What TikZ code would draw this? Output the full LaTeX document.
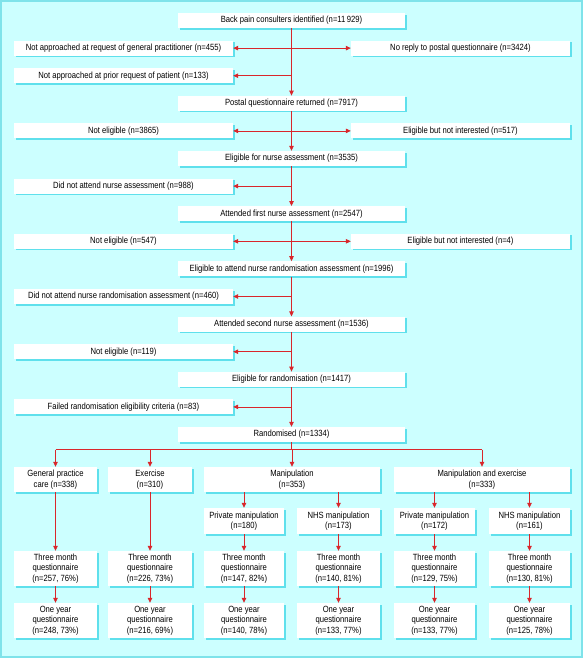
\documentclass[tikz,border=0pt]{standalone}
\usepackage{fontspec}
\setmainfont[FakeStretch=0.85]{Liberation Sans}
\usetikzlibrary{arrows.meta,shadows}
\definecolor{paneback}{HTML}{CCFFFF}
\definecolor{paneedge}{HTML}{7FE3EA}
\definecolor{boxshade}{HTML}{5FE0EC}
\definecolor{flowred}{HTML}{D9262B}
\begin{document}
\begin{tikzpicture}[x=1pt, y=-1pt,
      box/.style = {shape=rectangle, fill=white, inner sep=1pt, align=center,
        font=\fontsize{9}{10.5}\selectfont,
        drop shadow={shadow xshift=1.5pt, shadow yshift=-1.5pt, fill=boxshade, opacity=1}},
      mainbox/.style = {box, minimum width=227pt, minimum height=15pt},
      sidebox/.style = {box, minimum width=219pt, minimum height=15pt},
      armbox/.style = {box, minimum height=25pt},
      subbox/.style = {box, minimum height=26pt},
      qbox/.style = {box, minimum height=35pt},
      link/.style = {draw=flowred, line width=0.8pt},
      arr/.style = {link, -{Triangle[length=5pt,width=4.5pt]}}]
      \useasboundingbox (0,0) rectangle (584,659);
      \draw[fill=paneback, draw=paneedge, line width=1.5pt] (1,1) rectangle (582,657);
      % main column
      \node[mainbox] (m0) at (291.5,20.5) {Back pain consulters identified (n=11\,929)};
      \node[mainbox] (m1) at (291.5,103.3) {Postal questionnaire returned (n=7917)};
      \node[mainbox] (m2) at (291.5,158.5) {Eligible for nurse assessment (n=3535)};
      \node[mainbox] (m3) at (291.5,213.7) {Attended first nurse assessment (n=2547)};
      \node[mainbox] (m4) at (291.5,268.9) {Eligible to attend nurse randomisation assessment (n=1996)};
      \node[mainbox] (m5) at (291.5,324.1) {Attended second nurse assessment (n=1536)};
      \node[mainbox] (m6) at (291.5,379.3) {Eligible for randomisation (n=1417)};
      \node[mainbox] (rand) at (291.5,434.5) {Randomised (n=1334)};
      % exclusions
      \node[sidebox] (l1) at (123.5,48.1) {Not approached at request of general practitioner (n=455)};
      \node[sidebox] (r1) at (460.5,48.1) {No reply to postal questionnaire (n=3424)};
      \node[sidebox] (l2) at (123.5,75.7) {Not approached at prior request of patient (n=133)};
      \node[sidebox] (l3) at (123.5,130.9) {Not eligible (n=3865)};
      \node[sidebox] (r3) at (460.5,130.9) {Eligible but not interested (n=517)};
      \node[sidebox] (l4) at (123.5,186.1) {Did not attend nurse assessment (n=988)};
      \node[sidebox] (l5) at (123.5,241.3) {Not eligible (n=547)};
      \node[sidebox] (r5) at (460.5,241.3) {Eligible but not interested (n=4)};
      \node[sidebox] (l6) at (123.5,296.5) {Did not attend nurse randomisation assessment (n=460)};
      \node[sidebox] (l7) at (123.5,351.7) {Not eligible (n=119)};
      \node[sidebox] (l8) at (123.5,406.9) {Failed randomisation eligibility criteria (n=83)};
      % spine
      \draw[arr] (m0) -- (m1);
      \draw[arr] (m1) -- (m2);
      \draw[arr] (m2) -- (m3);
      \draw[arr] (m3) -- (m4);
      \draw[arr] (m4) -- (m5);
      \draw[arr] (m5) -- (m6);
      \draw[arr] (m6) -- (rand);
      \draw[arr] (m0.south |- l1) -- (l1.east);
      \draw[arr] (m0.south |- r1) -- (r1.west);
      \draw[arr] (m0.south |- l2) -- (l2.east);
      \draw[arr] (m1.south |- l3) -- (l3.east);
      \draw[arr] (m1.south |- r3) -- (r3.west);
      \draw[arr] (m2.south |- l4) -- (l4.east);
      \draw[arr] (m3.south |- l5) -- (l5.east);
      \draw[arr] (m3.south |- r5) -- (r5.west);
      \draw[arr] (m4.south |- l6) -- (l6.east);
      \draw[arr] (m5.south |- l7) -- (l7.east);
      \draw[arr] (m6.south |- l8) -- (l8.east);
      % trial arms
      \node[armbox, minimum width=83pt] (gp) at (55.5,479.5) {General practice\\care (n=338)};
      \node[armbox, minimum width=84pt] (ex) at (150,479.5) {Exercise\\(n=310)};
      \node[armbox, minimum width=176pt] (man) at (292,479.5) {Manipulation\\(n=353)};
      \node[armbox, minimum width=176pt] (mex) at (482,479.5) {Manipulation and exercise\\(n=333)};
      \node[subbox, minimum width=80pt] (pm) at (244,521) {Private manipulation\\(n=180)};
      \node[subbox, minimum width=83pt] (nm) at (338.5,521) {NHS manipulation\\(n=173)};
      \node[subbox, minimum width=81pt] (pmx) at (434.5,521) {Private manipulation\\(n=172)};
      \node[subbox, minimum width=81pt] (nmx) at (529.5,521) {NHS manipulation\\(n=161)};
      \node[qbox, minimum width=83pt] (gp3) at (55.5,568.5) {Three month\\questionnaire\\(n=257, 76\%)};
      \node[qbox, minimum width=84pt] (ex3) at (150,568.5) {Three month\\questionnaire\\(n=226, 73\%)};
      \node[qbox, minimum width=80pt] (pm3) at (244,568.5) {Three month\\questionnaire\\(n=147, 82\%)};
      \node[qbox, minimum width=83pt] (nm3) at (338.5,568.5) {Three month\\questionnaire\\(n=140, 81\%)};
      \node[qbox, minimum width=81pt] (pmx3) at (434.5,568.5) {Three month\\questionnaire\\(n=129, 75\%)};
      \node[qbox, minimum width=81pt] (nmx3) at (529.5,568.5) {Three month\\questionnaire\\(n=130, 81\%)};
      \node[qbox, minimum width=83pt] (gp12) at (55.5,620.5) {One year\\questionnaire\\(n=248, 73\%)};
      \node[qbox, minimum width=84pt] (ex12) at (150,620.5) {One year\\questionnaire\\(n=216, 69\%)};
      \node[qbox, minimum width=80pt] (pm12) at (244,620.5) {One year\\questionnaire\\(n=140, 78\%)};
      \node[qbox, minimum width=83pt] (nm12) at (338.5,620.5) {One year\\questionnaire\\(n=133, 77\%)};
      \node[qbox, minimum width=81pt] (pmx12) at (434.5,620.5) {One year\\questionnaire\\(n=133, 77\%)};
      \node[qbox, minimum width=81pt] (nmx12) at (529.5,620.5) {One year\\questionnaire\\(n=125, 78\%)};
      % branching
      \coordinate (bar) at (291.5,449.5);
      \draw[link] (rand.south) -- (bar);
      \draw[link] (gp.north |- bar) -- (mex.north |- bar);
      \draw[arr] (gp.north |- bar) -- (gp.north);
      \draw[arr] (ex.north |- bar) -- (ex.north);
      \draw[arr] (man.north |- bar) -- (man.north);
      \draw[arr] (mex.north |- bar) -- (mex.north);
      \draw[arr] (pm.north |- man.south) -- (pm.north);
      \draw[arr] (nm.north |- man.south) -- (nm.north);
      \draw[arr] (pmx.north |- mex.south) -- (pmx.north);
      \draw[arr] (nmx.north |- mex.south) -- (nmx.north);
      \draw[arr] (gp) -- (gp3);
      \draw[arr] (ex) -- (ex3);
      \draw[arr] (pm) -- (pm3);
      \draw[arr] (nm) -- (nm3);
      \draw[arr] (pmx) -- (pmx3);
      \draw[arr] (nmx) -- (nmx3);
      \draw[arr] (gp3) -- (gp12);
      \draw[arr] (ex3) -- (ex12);
      \draw[arr] (pm3) -- (pm12);
      \draw[arr] (nm3) -- (nm12);
      \draw[arr] (pmx3) -- (pmx12);
      \draw[arr] (nmx3) -- (nmx12);
\end{tikzpicture}
\end{document}
